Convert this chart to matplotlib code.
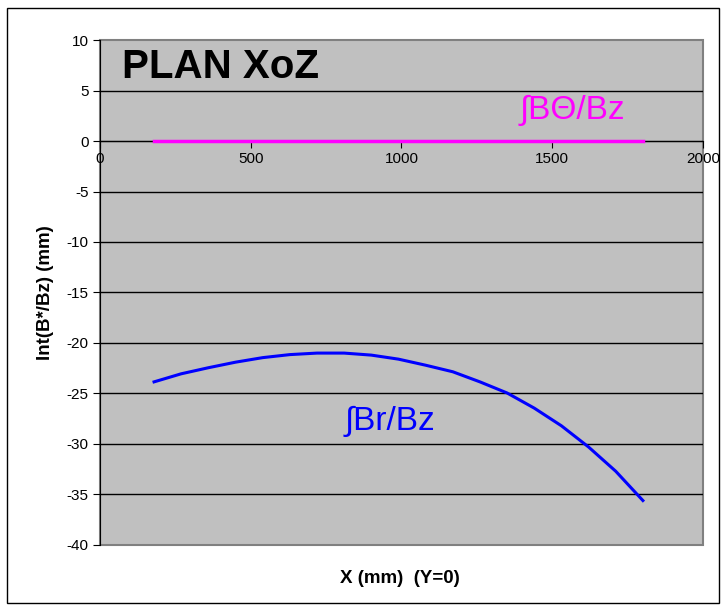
import numpy as np
import matplotlib.pyplot as plt
from matplotlib.patches import Rectangle

plt.rcParams['font.family'] = ['Liberation Sans', 'DejaVu Sans']
plt.rcParams['axes.unicode_minus'] = False

# donnees
x_mm = [180, 270, 360, 450, 540, 630, 720, 810, 900, 990,
        1080, 1170, 1260, 1350, 1440, 1530, 1620, 1710, 1800]
int_br_bz = [-23.85, -23.05, -22.45, -21.9, -21.45, -21.15, -21.0, -21.0, -21.2, -21.6,
             -22.2, -22.85, -23.85, -24.95, -26.45, -28.2, -30.3, -32.7, -35.6]
int_btheta_bz = [0.0] * len(x_mm)

x_ticks = [0, 500, 1000, 1500, 2000]
y_ticks = [10, 5, 0, -5, -10, -15, -20, -25, -30, -35, -40]

fig = plt.figure(figsize=(7.28, 6.10), dpi=100)
ax = fig.add_axes([0.137, 0.1066, 0.829, 0.8278])

ax.set_facecolor('#C0C0C0')
ax.patch.set_edgecolor('#808080')
ax.patch.set_linewidth(1.5)

# lignes de grille (sauf les bords du cadre)
for yv in y_ticks[1:-1]:
    ax.axhline(yv, color='black', lw=1, zorder=1)

ax.plot(x_mm, int_btheta_bz, color='#FF00FF', lw=2.5, zorder=3)
ax.plot(x_mm, int_br_bz, color='#0000FF', lw=2.2, zorder=3)

ax.set_xlim(0, 2000)
ax.set_ylim(-40, 10)
ax.set_xticks(x_ticks)
ax.set_yticks(y_ticks)

for s in ['top', 'right']:
    ax.spines[s].set_visible(False)
ax.spines['bottom'].set_position(('data', 0))
ax.spines['bottom'].set_color('black')
ax.spines['left'].set_color('black')

ax.tick_params(axis='x', direction='out', length=5, pad=3, labelsize=11)
ax.tick_params(axis='y', direction='out', length=5, pad=3, labelsize=11)

ax.set_ylabel('Int(B*/Bz) (mm)', fontsize=13.5, fontweight='bold', labelpad=9)
fig.text(0.549, 0.051, 'X (mm)  (Y=0)', fontsize=13.5, fontweight='bold', ha='center', va='center')

ax.text(75, 7.3, 'PLAN XoZ', fontsize=29, fontweight='bold', va='center', ha='left')
ax.text(1390, 3.0, '\u222bB\u0398/Bz', fontsize=24, color='#FF00FF', va='center', ha='left')
ax.text(960, -27.8, '\u222bBr/Bz', fontsize=24, color='#0000FF', va='center', ha='center')

fig.patches.append(Rectangle((0.009, 0.012), 0.979, 0.975, transform=fig.transFigure,
                             fill=False, edgecolor='black', lw=1))

fig.savefig('out.png', dpi=100)
